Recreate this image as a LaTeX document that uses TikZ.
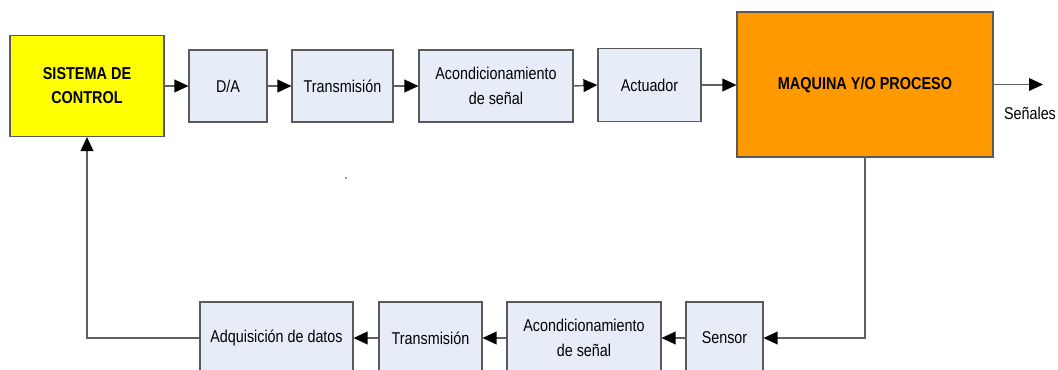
\documentclass[tikz,border=0pt]{standalone}
\usepackage{fontspec}
\setmainfont[FakeStretch=0.84]{Liberation Sans}
\usetikzlibrary{arrows.meta}
\definecolor{boxfill}{HTML}{E7EDF8}
\definecolor{boxline}{HTML}{5A5A5A}
\definecolor{wire}{HTML}{606060}
\definecolor{ctrlfill}{HTML}{FFFF00}
\definecolor{procfill}{HTML}{FF9900}
\begin{document}
\begin{tikzpicture}[x=0.75pt,y=-0.75pt,
  blk/.style={draw=boxline,line width=0.8pt,fill=boxfill,align=center,inner sep=0pt,
    font=\fontsize{12.8}{18.6}\selectfont},
  bigblk/.style={blk,font=\fontsize{12.9}{18}\selectfont\bfseries},
  flow/.style={draw=wire,line width=1.1pt,-{Triangle[length=10.5pt,width=9.5pt,color=black]}},
  wireline/.style={draw=wire,line width=1.1pt}]
\useasboundingbox (0,0) rectangle (1058,369);
\clip (0,0) rectangle (1058,369);
\fill[white] (0,0) rectangle (1058,369);

% forward path
\node[bigblk,fill=ctrlfill,minimum width=154*0.75pt,minimum height=101*0.75pt] (ctrl) at (87,86) {SISTEMA DE\\CONTROL};
\node[blk,minimum width=78*0.75pt,minimum height=72*0.75pt] (da) at (228,86) {D/A};
\node[blk,minimum width=101*0.75pt,minimum height=72*0.75pt] (tx1) at (342.5,86) {Transmisión};
\node[blk,minimum width=154*0.75pt,minimum height=72*0.75pt] (ac1) at (496,86) {Acondicionamiento\\de señal};
\node[blk,minimum width=103*0.75pt,minimum height=73*0.75pt] (act) at (649.5,85) {Actuador};
\node[bigblk,fill=procfill,minimum width=256*0.75pt,minimum height=145*0.75pt] (maq) at (865,84.5) {MAQUINA Y/O PROCESO};
\coordinate (out) at (1043,84.5);
\node[font=\fontsize{12.8}{15}\selectfont] (sen_lbl) at (1030,113) {Señales};

% feedback path
\node[blk,minimum width=153*0.75pt,minimum height=72*0.75pt] (adq) at (276.5,338) {Adquisición de datos};
\node[blk,minimum width=103*0.75pt,minimum height=72*0.75pt] (tx2) at (430.5,338) {Transmisión};
\node[blk,minimum width=154*0.75pt,minimum height=72*0.75pt] (ac2) at (584,338) {Acondicionamiento\\de señal};
\node[blk,minimum width=77*0.75pt,minimum height=72*0.75pt] (sen) at (724.5,338) {Sensor};

% connectors
\draw[flow] (ctrl.east |- da.west) -- (da.west);
\draw[flow] (da.east) -- (tx1.west);
\draw[flow] (tx1.east) -- (ac1.west);
\draw[flow] (ac1.east) -- (act.west);
\draw[flow] (act.east) -- (maq.west |- act.east);
\draw[flow] (maq.east) -- (out);
\draw[flow] (maq.south) |- (sen.east);
\draw[flow] (sen.west) -- (ac2.east);
\draw[flow] (ac2.west) -- (tx2.east);
\draw[flow] (tx2.west) -- (adq.east);
\draw[flow] (adq.west) -| (ctrl.south);

% small stray mark
\fill[black!70] (346,178) circle (0.6pt);
\end{tikzpicture}
\end{document}
